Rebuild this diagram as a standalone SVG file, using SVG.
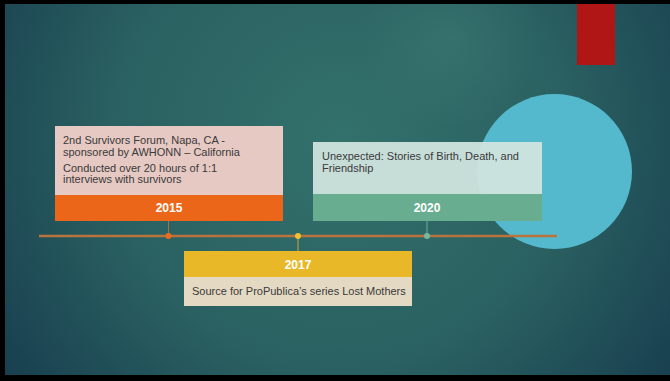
<svg xmlns="http://www.w3.org/2000/svg" width="670" height="381" viewBox="0 0 670 381">
  <defs>
    <radialGradient id="bg" cx="340" cy="140" r="420" gradientUnits="userSpaceOnUse">
      <stop offset="0" stop-color="#33716c"/>
      <stop offset="0.55" stop-color="#2a6061"/>
      <stop offset="1" stop-color="#173d4e"/>
    </radialGradient>
    <radialGradient id="glow" cx="450" cy="40" r="90" gradientUnits="userSpaceOnUse">
      <stop offset="0" stop-color="#3e7c76" stop-opacity="0.5"/>
      <stop offset="1" stop-color="#3e7c76" stop-opacity="0"/>
    </radialGradient>
    <style>
      .body { font-family: "Liberation Sans", Arial, sans-serif; font-size: 11px; fill: #3a3a3a; }
      .year { font-family: "Liberation Sans", Arial, sans-serif; font-size: 12px; font-weight: bold; fill: #ffffff; text-anchor: middle; }
      .stem { stroke-width: 1; }
    </style>
  </defs>
  <rect x="0" y="0" width="670" height="381" fill="#000"/>
  <rect x="5" y="4" width="665" height="371" fill="url(#bg)"/>
  <rect x="5" y="4" width="665" height="371" fill="url(#glow)"/>
  <rect x="577" y="4" width="38" height="61" fill="#b01616"/>
  <circle cx="554.5" cy="171.5" r="77.5" fill="#54b9cc"/>

  <g id="connectors">
    <line x1="39" y1="236" x2="557" y2="236" stroke="#b8743c" stroke-width="2.5"/>
    <line class="stem" x1="168.5" y1="221" x2="168.5" y2="236" stroke="#a8704a"/>
    <line class="stem" x1="427" y1="221" x2="427" y2="236" stroke="#6aae90"/>
    <line class="stem" x1="298" y1="236" x2="298" y2="251" stroke="#c8a840"/>
    <circle cx="168.5" cy="236" r="3" fill="#f06a1c"/>
    <circle cx="298" cy="236" r="3" fill="#f0c030"/>
    <circle cx="427" cy="236" r="3" fill="#78b8a0"/>
  </g>

  <g id="node-2015">
    <rect x="55" y="126" width="228" height="69" fill="#e6c9c3"/>
    <rect x="55" y="195" width="228" height="26" fill="#ec6619"/>
    <text class="body" x="63" y="144">2nd Survivors Forum, Napa, CA -</text>
    <text class="body" x="63" y="156">sponsored by AWHONN – California</text>
    <text class="body" x="63" y="172">Conducted over 20 hours of 1:1</text>
    <text class="body" x="63" y="183">interviews with survivors</text>
    <text class="year" x="169" y="212">2015</text>
  </g>

  <g id="node-2020">
    <rect x="313" y="142" width="229" height="52" fill="#d0e4df" fill-opacity="0.94"/>
    <rect x="313" y="194" width="229" height="27" fill="#69ad90"/>
    <text class="body" x="322" y="160">Unexpected: Stories of Birth, Death, and</text>
    <text class="body" x="322" y="172">Friendship</text>
    <text class="year" x="427" y="212">2020</text>
  </g>

  <g id="node-2017">
    <rect x="184" y="251" width="228" height="26" fill="#e8b829"/>
    <rect x="184" y="277" width="228" height="29" fill="#e4d9c2"/>
    <text class="year" x="298" y="269">2017</text>
    <text class="body" x="192" y="295">Source for ProPublica’s series Lost Mothers</text>
  </g>
</svg>
